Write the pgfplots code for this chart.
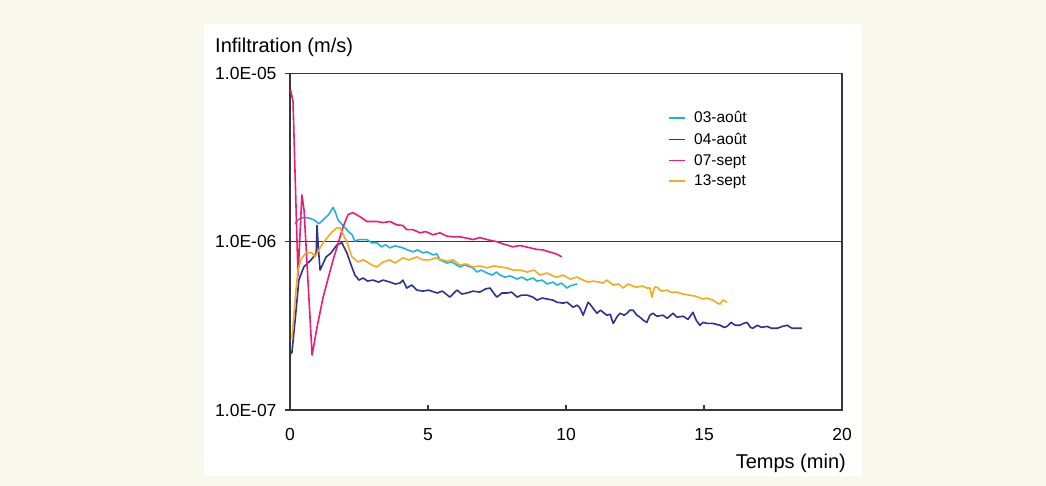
\documentclass[border=0pt]{standalone}
\usepackage{fontspec}
\setmainfont{Liberation Sans}
\usepackage{pgfplots}
\pgfplotsset{compat=1.18}

\definecolor{pagebg}{RGB}{248,248,236}
\definecolor{cAug3}{RGB}{32,178,222}
\definecolor{cAug4}{RGB}{46,49,146}
\definecolor{cSep7}{RGB}{230,30,120}
\definecolor{cSep13}{RGB}{245,170,30}
\definecolor{frame}{RGB}{55,55,55}

\begin{document}
\begin{tikzpicture}
\fill[pagebg] (0,0) rectangle (1046bp,486bp);
\fill[white] (204bp,10bp) rectangle (862bp,462bp);

\begin{axis}[
    at={(290bp,76bp)}, anchor=south west,
    scale only axis,
    width=552bp, height=336.5bp,
    xmin=0, xmax=20,
    ymode=log, log basis y=10,
    ymin=1e-7, ymax=1e-5,
    xtick={0,5,10,15,20},
    xticklabels={0,5,10,15,20},
    ytick={1e-7,1e-6,1e-5},
    yticklabels={1.0E-07,1.0E-06,1.0E-05},
    yminorticks=false,
    xtick pos=bottom, ytick pos=left,
    tick align=inside,
    major tick length=5bp,
    ytick style={xshift=-5bp, frame, line width=1.4bp},
    xtick style={frame, line width=1.2bp},
    ymajorgrids,
    grid style={frame, line width=1.4bp},
    axis line style={frame, line width=1.5bp},
    tick label style={font=\fontsize{17.5bp}{20bp}\selectfont},
    yticklabel style={xshift=-10bp},
    xticklabel style={yshift=-15bp},
    legend style={at={(0.68,0.899)}, anchor=north west, draw=none, fill=none,
        font=\fontsize{15.5bp}{18bp}\selectfont, row sep=4.5bp,
        legend cell align=left,
        /tikz/every odd column/.append style={column sep=6bp}},
    legend image code/.code={\draw[#1, line width=1.6bp] (0bp,0bp) -- (16bp,0bp);},
    every axis plot/.append style={line width=1.6bp, line join=round},
]

\addplot[cAug3] coordinates {
(0.18,1.28e-6) (0.29,1.35e-6) (0.43,1.39e-6) (0.65,1.39e-6) (0.87,1.35e-6)
(1.05,1.28e-6) (1.20,1.35e-6) (1.40,1.45e-6) (1.56,1.60e-6) (1.65,1.49e-6)
(1.74,1.35e-6) (1.95,1.23e-6) (2.17,1.13e-6) (2.25,1.10e-6) (2.35,1.01e-6)
(2.51,1.03e-6) (2.79,1.03e-6) (2.96,9.86e-7) (3.15,9.86e-7) (3.31,9.33e-7)
(3.46,9.59e-7) (3.62,9.20e-7) (3.81,9.46e-7) (4.09,9.20e-7) (4.26,8.95e-7)
(4.46,8.71e-7) (4.62,8.95e-7) (4.82,8.59e-7) (4.97,8.71e-7) (5.18,8.35e-7)
(5.32,8.47e-7) (5.43,7.80e-7) (5.69,7.48e-7) (5.87,7.59e-7) (6.15,7.08e-7)
(6.33,7.28e-7) (6.63,6.99e-7) (6.78,6.61e-7) (6.93,6.79e-7) (7.14,6.52e-7)
(7.33,6.34e-7) (7.48,6.61e-7) (7.61,6.34e-7) (7.78,6.17e-7) (7.98,6.26e-7)
(8.23,6.00e-7) (8.39,6.17e-7) (8.59,5.92e-7) (8.80,6.09e-7) (8.95,5.84e-7)
(9.14,5.92e-7) (9.31,5.61e-7) (9.53,5.76e-7) (9.67,5.53e-7) (9.84,5.68e-7)
(10.03,5.31e-7) (10.15,5.46e-7) (10.26,5.53e-7) (10.40,5.61e-7)
};
\addlegendentry{03-août}

\addplot[cAug4] coordinates {
(0.03,2.16e-7) (0.07,2.20e-7) (0.21,3.76e-7) (0.32,5.92e-7) (0.50,7.08e-7)
(0.76,7.80e-7) (0.91,8.35e-7) (0.95,8.59e-7) (0.98,1.25e-6) (1.02,9.50e-7)
(1.09,6.79e-7) (1.31,8.13e-7) (1.49,8.59e-7) (1.70,9.59e-7) (1.88,9.86e-7)
(2.06,8.59e-7) (2.24,7.08e-7) (2.35,6.34e-7) (2.50,5.92e-7) (2.65,6.09e-7)
(2.81,5.84e-7) (3.01,5.92e-7) (3.21,5.76e-7) (3.37,5.92e-7) (3.62,5.76e-7)
(3.81,5.61e-7) (3.98,5.68e-7) (4.09,5.92e-7) (4.23,5.31e-7) (4.41,5.53e-7)
(4.60,5.16e-7) (4.82,5.09e-7) (5.02,5.16e-7) (5.33,4.96e-7) (5.52,5.09e-7)
(5.79,4.69e-7) (6.05,5.16e-7) (6.23,4.89e-7) (6.42,4.96e-7) (6.63,5.09e-7)
(6.88,5.02e-7) (7.08,5.24e-7) (7.25,5.31e-7) (7.43,4.82e-7) (7.50,4.69e-7)
(7.68,4.96e-7) (7.86,4.96e-7) (8.03,5.02e-7) (8.23,4.69e-7) (8.39,4.82e-7)
(8.59,4.82e-7) (8.80,4.69e-7) (8.95,4.50e-7) (9.14,4.63e-7) (9.31,4.57e-7)
(9.53,4.50e-7) (9.67,4.37e-7) (9.89,4.32e-7) (10.04,4.37e-7) (10.26,4.08e-7)
(10.40,4.20e-7) (10.51,4.03e-7) (10.62,3.66e-7) (10.80,4.37e-7) (10.87,4.26e-7)
(10.98,4.03e-7) (11.12,3.76e-7) (11.25,3.92e-7) (11.48,3.66e-7) (11.60,3.71e-7)
(11.71,3.27e-7) (11.86,3.61e-7) (11.96,3.76e-7) (12.11,3.66e-7) (12.21,3.76e-7)
(12.31,3.92e-7) (12.43,3.92e-7) (12.57,3.66e-7) (12.68,3.56e-7) (12.81,3.41e-7)
(12.93,3.32e-7) (13.04,3.66e-7) (13.15,3.76e-7) (13.29,3.61e-7) (13.51,3.66e-7)
(13.67,3.51e-7) (13.88,3.76e-7) (14.02,3.56e-7) (14.24,3.61e-7) (14.42,3.46e-7)
(14.60,3.81e-7) (14.72,3.41e-7) (14.85,3.19e-7) (14.97,3.32e-7) (15.11,3.27e-7)
(15.32,3.27e-7) (15.58,3.19e-7) (15.73,3.10e-7) (15.84,3.14e-7) (15.98,3.32e-7)
(16.13,3.19e-7) (16.30,3.19e-7) (16.43,3.27e-7) (16.56,3.32e-7) (16.68,3.10e-7)
(16.77,3.06e-7) (16.93,3.19e-7) (17.08,3.10e-7) (17.29,3.14e-7) (17.44,3.06e-7)
(17.65,3.06e-7) (17.84,3.14e-7) (18.01,3.19e-7) (18.19,3.06e-7) (18.37,3.06e-7)
(18.55,3.06e-7)
};
\addlegendentry{04-août}

\addplot[cSep7] coordinates {
(0.02,8.0e-6) (0.11,6.8e-6) (0.18,2.67e-6) (0.29,6.25e-7) (0.43,1.90e-6)
(0.51,1.54e-6) (0.80,2.12e-7) (0.98,3.11e-7) (1.20,4.69e-7) (1.56,7.78e-7)
(1.92,1.22e-6) (2.10,1.45e-6) (2.28,1.49e-6) (2.53,1.41e-6) (2.79,1.32e-6)
(3.15,1.32e-6) (3.37,1.30e-6) (3.62,1.32e-6) (3.87,1.26e-6) (4.09,1.25e-6)
(4.23,1.18e-6) (4.46,1.18e-6) (4.71,1.13e-6) (4.92,1.15e-6) (5.18,1.10e-6)
(5.43,1.13e-6) (5.69,1.08e-6) (5.92,1.07e-6) (6.15,1.07e-6) (6.42,1.05e-6)
(6.63,1.03e-6) (6.88,1.06e-6) (7.14,1.03e-6) (7.50,1.00e-6) (7.73,9.70e-7)
(8.08,9.33e-7) (8.34,9.50e-7) (8.70,9.20e-7) (8.95,9.00e-7) (9.17,8.95e-7)
(9.39,8.70e-7) (9.53,8.59e-7) (9.69,8.40e-7) (9.78,8.24e-7) (9.85,8.13e-7)
};
\addlegendentry{07-sept}

\addplot[cSep13] coordinates {
(0.07,2.66e-7) (0.21,5.02e-7) (0.29,6.79e-7) (0.39,7.80e-7) (0.57,8.59e-7)
(0.80,8.59e-7) (0.91,8.13e-7) (0.98,8.59e-7) (1.20,9.86e-7) (1.49,1.13e-6)
(1.70,1.21e-6) (1.81,1.21e-6) (2.06,1.00e-6) (2.24,8.13e-7) (2.47,7.59e-7)
(2.65,7.80e-7) (2.79,7.59e-7) (2.96,7.28e-7) (3.15,7.08e-7) (3.37,7.59e-7)
(3.62,7.80e-7) (3.81,7.48e-7) (4.09,8.02e-7) (4.31,7.80e-7) (4.60,8.13e-7)
(4.82,7.80e-7) (5.07,7.80e-7) (5.27,8.02e-7) (5.52,7.80e-7) (5.69,7.69e-7)
(5.92,7.80e-7) (6.15,7.28e-7) (6.38,7.38e-7) (6.63,7.08e-7) (6.88,7.18e-7)
(7.14,6.99e-7) (7.38,7.18e-7) (7.61,7.08e-7) (7.86,6.99e-7) (8.08,6.79e-7)
(8.34,6.79e-7) (8.59,6.61e-7) (8.84,6.79e-7) (9.06,6.34e-7) (9.31,6.52e-7)
(9.53,6.26e-7) (9.67,6.17e-7) (9.89,6.34e-7) (10.15,6.00e-7) (10.40,6.17e-7)
(10.62,5.92e-7) (10.80,5.76e-7) (10.98,5.84e-7) (11.20,5.76e-7) (11.34,5.68e-7)
(11.48,5.92e-7) (11.71,5.53e-7) (11.91,5.61e-7) (12.07,5.31e-7) (12.25,5.61e-7)
(12.41,5.46e-7) (12.57,5.38e-7) (12.76,5.46e-7) (12.93,5.31e-7) (13.04,5.31e-7)
(13.11,4.69e-7) (13.21,5.38e-7) (13.29,5.38e-7) (13.46,5.09e-7) (13.65,5.16e-7)
(13.82,5.00e-7) (14.02,5.02e-7) (14.24,4.89e-7) (14.46,4.82e-7) (14.67,4.76e-7)
(14.96,4.57e-7) (15.11,4.63e-7) (15.32,4.50e-7) (15.48,4.32e-7) (15.58,4.26e-7)
(15.68,4.50e-7) (15.84,4.37e-7)
};
\addlegendentry{13-sept}
\end{axis}

\node[anchor=base west, inner sep=0pt, font=\fontsize{20bp}{23bp}\selectfont]
  at (215bp,433bp) {Infiltration (m/s)};
\node[anchor=base east, inner sep=0pt, font=\fontsize{20bp}{23bp}\selectfont]
  at (846bp,18bp) {Temps (min)};
\end{tikzpicture}
\end{document}
